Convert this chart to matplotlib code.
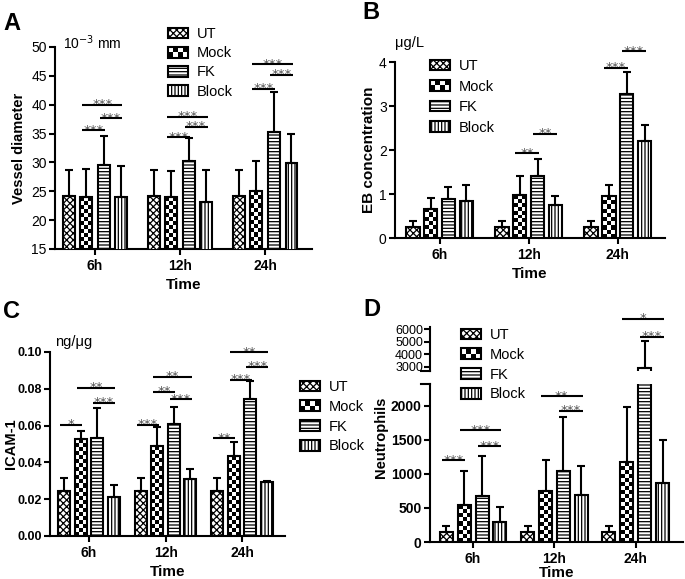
import numpy as np
import matplotlib
matplotlib.use("Agg")
import matplotlib.pyplot as plt
from matplotlib.patches import Patch, Rectangle
from matplotlib.legend_handler import HandlerBase

plt.rcParams['font.family'] = ['Liberation Sans', 'DejaVu Sans']
plt.rcParams['hatch.linewidth'] = 0.9
plt.rcParams['axes.linewidth'] = 1.5

# ---------------- data ----------------
groups = ["6h", "12h", "24h"]
series = ["UT", "Mock", "FK", "Block"]

# Panel A: vessel diameter (10^-3 mm)
a_ut = [24.2, 24.2, 24.2]
a_mock = [24.0, 24.0, 25.0]
a_fk = [29.5, 30.2, 35.2]
a_block = [24.0, 23.1, 29.9]
a_ut_err = [4.5, 4.5, 4.5]
a_mock_err = [4.8, 4.5, 5.2]
a_fk_err = [5.0, 4.0, 7.0]
a_block_err = [5.3, 5.6, 5.1]
a_sig = [(0, 1, 2, 35.6, "***"), (0, 2, 3, 37.7, "***"), (0, 1, 3, 40.0, "***"),
         (1, 1, 2, 34.4, "***"), (1, 2, 3, 36.2, "***"), (1, 1, 3, 37.9, "***"),
         (2, 1, 2, 42.8, "***"), (2, 2, 3, 45.2, "***"), (2, 1, 3, 47.0, "***")]

# Panel B: EB concentration (ug/L)
b_ut = [0.25, 0.25, 0.25]
b_mock = [0.67, 0.97, 0.95]
b_fk = [0.88, 1.40, 3.27]
b_block = [0.85, 0.76, 2.20]
b_ut_err = [0.13, 0.13, 0.13]
b_mock_err = [0.23, 0.43, 0.25]
b_fk_err = [0.29, 0.39, 0.50]
b_block_err = [0.35, 0.19, 0.37]
b_sig = [(1, 1, 2, 1.93, "**"), (1, 2, 3, 2.37, "**"),
         (2, 1, 2, 3.87, "***"), (2, 2, 3, 4.25, "***")]

# Panel C: ICAM-1 (ng/ug)
c_ut = [0.0245, 0.0245, 0.0245]
c_mock = [0.0525, 0.0487, 0.0433]
c_fk = [0.0532, 0.0607, 0.0745]
c_block = [0.0210, 0.0310, 0.0293]
c_ut_err = [0.0070, 0.0070, 0.0070]
c_mock_err = [0.0043, 0.0103, 0.0080]
c_fk_err = [0.0163, 0.0093, 0.0098]
c_block_err = [0.0068, 0.0055, 0.0007]
c_sig = [(0, 0, 1, 0.0605, "*"), (0, 2, 3, 0.0725, "***"), (0, 1, 3, 0.0805, "**"),
         (1, 0, 1, 0.0605, "***"), (1, 2, 3, 0.0745, "***"), (1, 1, 2, 0.0785, "**"),
         (1, 1, 3, 0.0865, "**"),
         (2, 0, 1, 0.0533, "**"), (2, 1, 2, 0.0850, "***"), (2, 2, 3, 0.0920, "***"),
         (2, 1, 3, 0.1000, "**")]

# Panel D: neutrophils
d_ut = [150, 150, 150]
d_mock = [540, 750, 1170]
d_fk = [680, 1050, 2950]
d_block = [300, 690, 870]
d_ut_err = [90, 90, 90]
d_mock_err = [510, 460, 820]
d_fk_err = [580, 790, 2100]
d_block_err = [210, 430, 630]
d_sig_low = [(0, 0, 1, 1200, "***"), (0, 2, 3, 1410, "***"), (0, 1, 3, 1640, "***"),
             (1, 2, 3, 1930, "***"), (1, 1, 3, 2140, "**")]
d_sig_up = [(2, 2, 3, 5400, "***"), (2, 1, 3, 6800, "*")]

hatches = {"UT": "xxxxx", "FK": "-----", "Block": "|||||"}

W, H = 685, 579
fig = plt.figure(figsize=(W / 100, H / 100), dpi=100)


def ax_px(left, right, top, bottom):
    return fig.add_axes([left / W, 1 - bottom / H, (right - left) / W, (bottom - top) / H])


class CheckerHandler(HandlerBase):
    def create_artists(self, legend, orig_handle, xdescent, ydescent, width, height, fontsize, trans):
        arts = []
        nc, nr = 4, 2
        cw, ch = width / nc, height / nr
        for i in range(nr):
            for j in range(nc):
                if (i + j) % 2 == 0:
                    arts.append(Rectangle((-xdescent + j * cw, -ydescent + i * ch), cw, ch,
                                          facecolor='black', edgecolor='none', transform=trans))
        arts.append(Rectangle((-xdescent, -ydescent), width, height, facecolor='none',
                              edgecolor='black', lw=1.5, transform=trans))
        return arts


def legend_handles():
    hs = []
    for s in series:
        if s == "Mock":
            hs.append(Patch(facecolor='black', edgecolor='black', label=s))
        else:
            hs.append(Patch(facecolor='white', edgecolor='black', hatch=hatches[s], lw=1.5, label=s))
    return hs


def add_legend(ax, x_px, y_px, fs=10.5, spacing=0.3):
    hs = legend_handles()
    leg = ax.legend(handles=hs, loc='upper left', bbox_to_anchor=(x_px / W, 1 - y_px / H),
                    bbox_transform=fig.transFigure, frameon=False, fontsize=fs,
                    handlelength=1.4, handleheight=0.75, handletextpad=0.6,
                    labelspacing=spacing, borderpad=0, borderaxespad=0,
                    handler_map={hs[1]: CheckerHandler()})
    return leg


def draw_bars(ax, vals_list, errs_list, pitch, width):
    x = np.arange(len(groups))
    offs = (np.arange(4) - 1.5) * pitch
    all_bars = []
    for k, s in enumerate(series):
        xs = x + offs[k]
        if s == "Mock":
            bars = ax.bar(xs, vals_list[k], width, facecolor='none', edgecolor='black', lw=1.5, zorder=3)
        else:
            bars = ax.bar(xs, vals_list[k], width, facecolor='white', edgecolor='black', lw=1.5,
                          hatch=hatches[s], zorder=3)
        ax.errorbar(xs, vals_list[k], yerr=[np.zeros(3), errs_list[k]], fmt='none', ecolor='black',
                    elinewidth=1.5, capsize=3, capthick=1.5, zorder=4)
        all_bars.append(bars)
    return all_bars, offs


def checker(ax, bars, cell=4.0):
    xl, yl = ax.get_xlim(), ax.get_ylim()
    for b in bars:
        x0, w = b.get_x(), b.get_width()
        y0 = max(b.get_y(), yl[0])
        y1 = min(b.get_y() + b.get_height(), yl[1])
        if y1 <= y0:
            continue
        (px0, py0), (px1, py1) = ax.transData.transform([(x0, y0), (x0 + w, y1)])
        nc = max(1, int(round((px1 - px0) / cell)))
        nr = max(1, int(round((py1 - py0) / cell)))
        arr = np.indices((nr, nc)).sum(0) % 2
        ax.imshow(arr, cmap='gray', extent=(x0, x0 + w, y0, y1), origin='lower',
                  aspect='auto', interpolation='nearest', zorder=2.5)
    ax.set_xlim(xl)
    ax.set_ylim(yl)


def sig(ax, sigs, offs, width, fs=9.5):
    for g, i, j, y, lab in sigs:
        x1 = g + offs[i] - 0.35 * width
        x2 = g + offs[j] + 0.1 * width
        ax.plot([x1, x2], [y, y], color='black', lw=1.5, clip_on=False, zorder=5,
                solid_capstyle='butt')
        ax.annotate(lab, ((x1 + x2) / 2, y), xytext=(0, -2.6), textcoords='offset points',
                    ha='center', va='baseline', fontsize=fs, color='#555555',
                    family='DejaVu Sans', annotation_clip=False)


def style(ax, xl, ytick_bold=False, yfs=10, xfs=10, xlabelpad=3):
    for sp in ['top', 'right']:
        ax.spines[sp].set_visible(False)
    ax.set_xlim(*xl)
    ax.set_xticks(range(len(groups)))
    ax.set_xticklabels(groups, fontweight='bold', fontsize=xfs)
    ax.tick_params(axis='both', direction='out', length=4, width=1.5)
    ax.tick_params(axis='y', pad=2)
    for t in ax.get_yticklabels():
        t.set_fontsize(yfs)
        if ytick_bold:
            t.set_fontweight('bold')
    ax.set_xlabel("Time", fontweight='bold', fontsize=11, labelpad=xlabelpad)


# ---------------- Panel A ----------------
axA = ax_px(55, 312, 47, 249)
barsA, offA = draw_bars(axA, [a_ut, a_mock, a_fk, a_block],
                        [a_ut_err, a_mock_err, a_fk_err, a_block_err], 0.206, 0.14)
axA.set_ylim(15, 50)
axA.set_yticks(np.arange(15, 51, 5))
style(axA, (-0.47, 2.55))
axA.set_ylabel("Vessel diameter", fontweight='bold', fontsize=10.5)
axA.yaxis.set_label_coords(-29 / 257, 0.5)
checker(axA, barsA[1])
sig(axA, a_sig, offA, 0.14)
add_legend(axA, 168, 27, spacing=0.36)
fig.text(63 / W, 1 - 52 / H, "10$^{-3}$ mm", fontsize=10, ha='left', va='bottom')
fig.text(3 / W, 1 - 35 / H, "A", fontsize=17, fontweight='bold', ha='left', va='bottom')

# ---------------- Panel B ----------------
axB = ax_px(395, 665, 62, 238)
barsB, offB = draw_bars(axB, [b_ut, b_mock, b_fk, b_block],
                        [b_ut_err, b_mock_err, b_fk_err, b_block_err], 0.2, 0.15)
axB.set_ylim(0, 4)
axB.set_yticks(range(0, 5))
style(axB, (-0.5, 2.53))
axB.set_ylabel("EB concentration", fontweight='bold', fontsize=11)
axB.yaxis.set_label_coords(-19 / 270, 0.5)
checker(axB, barsB[1])
sig(axB, b_sig, offB, 0.15)
add_legend(axB, 430, 59, spacing=0.45)
fig.text(395 / W, 1 - 50 / H, "μg/L", fontsize=10.5, ha='left', va='bottom')
fig.text(362 / W, 1 - 24 / H, "B", fontsize=17, fontweight='bold', ha='left', va='bottom')

# ---------------- Panel C ----------------
axC = ax_px(50, 285, 352, 536)
barsC, offC = draw_bars(axC, [c_ut, c_mock, c_fk, c_block],
                        [c_ut_err, c_mock_err, c_fk_err, c_block_err], 0.216, 0.156)
axC.set_ylim(0, 0.10)
axC.set_yticks(np.arange(0, 0.101, 0.02))
axC.set_yticklabels([f"{v:.2f}" for v in np.arange(0, 0.101, 0.02)])
style(axC, (-0.51, 2.56), ytick_bold=True, yfs=9)
axC.set_ylabel("ICAM-1", fontweight='bold', fontsize=10.5)
axC.yaxis.set_label_coords(-32 / 235, 0.5)
checker(axC, barsC[1])
sig(axC, c_sig, offC, 0.156)
add_legend(axC, 300, 380, spacing=0.4)
fig.text(55 / W, 1 - 349 / H, "ng/μg", fontsize=10.5, ha='left', va='bottom')
fig.text(3 / W, 1 - 323 / H, "C", fontsize=17, fontweight='bold', ha='left', va='bottom')

# ---------------- Panel D ----------------
axD = ax_px(430, 683, 384, 542)
axDu = ax_px(430, 683, 327, 371)
vals_d = [d_ut, d_mock, d_fk, d_block]
errs_d = [d_ut_err, d_mock_err, d_fk_err, d_block_err]
barsD, offD = draw_bars(axD, vals_d, errs_d, 0.22, 0.16)
barsDu, _ = draw_bars(axDu, vals_d, errs_d, 0.22, 0.16)
axD.set_ylim(0, 2323)
axD.set_yticks(range(0, 2001, 500))
style(axD, (-0.53, 2.58), ytick_bold=True, yfs=10, xlabelpad=0)
axD.set_ylabel("Neutrophils", fontweight='bold', fontsize=10.5)
axD.yaxis.set_label_coords(-42 / 253, 0.66)
checker(axD, barsD[1])
axDu.set_ylim(2684, 6158)
axDu.set_yticks(range(3000, 6001, 1000))
axDu.set_xlim(-0.53, 2.58)
for sp in ['top', 'right', 'bottom']:
    axDu.spines[sp].set_visible(False)
axDu.set_xticks([])
axDu.tick_params(axis='y', direction='out', length=4, width=1.5, labelsize=9, pad=1)
checker(axDu, barsDu[1])
sig(axD, d_sig_low, offD, 0.16)
sig(axDu, d_sig_up, offD, 0.16)
# break caps
axD.plot([-0.035, 0], [1, 1], transform=axD.transAxes, color='black', lw=1.5, clip_on=False)
axDu.plot([-0.035, 0], [0, 0], transform=axDu.transAxes, color='black', lw=1.5, clip_on=False)
add_legend(axDu, 461, 328, spacing=0.4)
fig.text(363 / W, 1 - 321 / H, "D", fontsize=17, fontweight='bold', ha='left', va='bottom')

fig.savefig("out.png", dpi=100)
